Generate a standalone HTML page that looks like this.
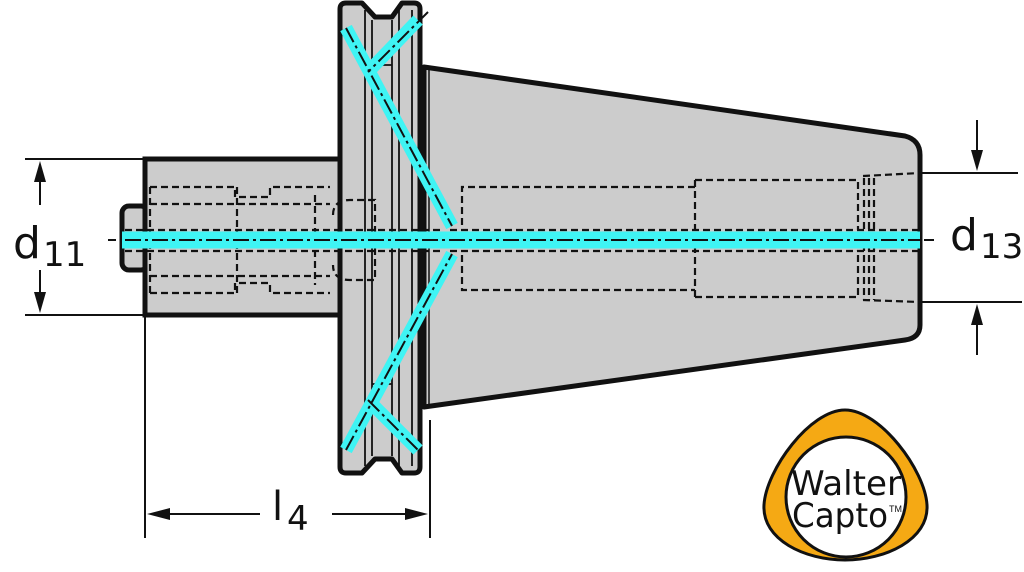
<!DOCTYPE html>
<html><head><meta charset="utf-8"><style>
html,body{margin:0;padding:0;background:#fff;}
svg{display:block;}
text{font-family:"DejaVu Sans","Liberation Sans",sans-serif;fill:#111;}
</style></head><body>
<svg width="1024" height="572" viewBox="0 0 1024 572" xmlns="http://www.w3.org/2000/svg">
<g stroke="#111" stroke-width="2" fill="none">
  <line x1="25" y1="159" x2="145" y2="159"/>
  <line x1="25" y1="315" x2="145" y2="315"/>
  <line x1="40" y1="175" x2="40" y2="205"/>
  <line x1="40" y1="270" x2="40" y2="300"/>
  <line x1="145" y1="315" x2="145" y2="538"/>
  <line x1="430" y1="420" x2="430" y2="538"/>
  <line x1="160" y1="514" x2="260" y2="514"/>
  <line x1="332" y1="514" x2="415" y2="514"/>
  <line x1="920" y1="173" x2="1018" y2="173"/>
  <line x1="920" y1="302" x2="1022" y2="302"/>
  <line x1="977" y1="120" x2="977" y2="160"/>
  <line x1="977" y1="315" x2="977" y2="355"/>
  <line x1="108" y1="240" x2="116" y2="240"/>
  <line x1="924" y1="240" x2="934" y2="240"/>
</g>
<g fill="#111">
  <polygon points="40,161 34,182 46,182"/>
  <polygon points="40,313 34,292 46,292"/>
  <polygon points="147,514 170,508 170,520"/>
  <polygon points="428,514 405,508 405,520"/>
  <polygon points="977,171 971,150 983,150"/>
  <polygon points="977,304 971,325 983,325"/>
</g>
<rect x="122" y="206" width="26" height="64" rx="7" fill="#ccc" stroke="#111" stroke-width="5"/>
<rect x="145" y="159" width="197" height="156" fill="#ccc" stroke="#111" stroke-width="5"/>
<path d="M424,67 L905,136 Q920,140 920,155 L920,325 Q920,338 905,340 L424,407 Z" fill="#ccc" stroke="#111" stroke-width="5" stroke-linejoin="round"/>
<g stroke="#111" stroke-width="1.5"><line x1="425" y1="70" x2="425" y2="405"/><line x1="429" y1="70" x2="429" y2="405"/></g>
<path d="M346,3 L362,3 L375,17 L392,17 L402,3 L414,3 Q420,3 420,9 L420,467 Q420,473 414,473 L402,473 L392,459 L375,459 L362,473 L346,473 Q340,473 340,467 L340,9 Q340,3 346,3 Z" fill="#ccc" stroke="#111" stroke-width="5" stroke-linejoin="round"/>
<g stroke="#111" stroke-width="1.8">
  <line x1="365" y1="10" x2="365" y2="466"/>
  <line x1="372" y1="20" x2="372" y2="456"/>
  <line x1="392" y1="20" x2="392" y2="456"/>
  <line x1="399" y1="10" x2="399" y2="466"/>
  <line x1="412" y1="10" x2="412" y2="466"/>
  <line x1="372" y1="65" x2="392" y2="65"/>
  <line x1="372" y1="384" x2="392" y2="384"/>
</g>
<g stroke="#111" stroke-width="2.2" fill="none" stroke-dasharray="7,4">
  <path d="M150,187 L235,187 L235,197 L270,197 L270,187 L330,187"/>
  <path d="M150,204 L330,204"/>
  <path d="M150,276 L330,276"/>
  <path d="M150,293 L235,293 L235,283 L270,283 L270,293 L330,293"/>
  <line x1="150" y1="187" x2="150" y2="293"/>
  <line x1="237" y1="187" x2="237" y2="293"/>
  <line x1="315" y1="195" x2="315" y2="285"/>
  <path d="M333,215 Q333,200 350,200 L375,200 L375,280 L350,280 Q333,280 333,265"/>
  <path d="M462,225 L462,187 L695,187"/>
  <path d="M462,255 L462,290 L695,290"/>
  <path d="M695,180 L858,180 L858,230"/>
  <path d="M695,297 L858,297 L858,250"/>
  <line x1="695" y1="180" x2="695" y2="297"/>
  <path d="M863,176 L920,173"/>
  <path d="M863,300 L920,302"/>
  <line x1="864" y1="178" x2="864" y2="300"/>
  <line x1="869" y1="178" x2="869" y2="300"/>
  <line x1="874" y1="178" x2="874" y2="300"/>
  <line x1="450" y1="230" x2="920" y2="230"/>
  <line x1="450" y1="251" x2="920" y2="251"/>
  <line x1="125" y1="230" x2="440" y2="230"/>
  <line x1="125" y1="251" x2="440" y2="251"/>
</g>
<g stroke="#3ff4f4" stroke-linecap="butt">
  <line x1="122" y1="240" x2="920" y2="240" stroke-width="17"/>
  <line x1="346" y1="28" x2="452" y2="226" stroke-width="13"/>
  <line x1="346" y1="450" x2="452" y2="254" stroke-width="13"/>
  <line x1="418" y1="20" x2="368" y2="72" stroke-width="13"/>
  <line x1="368" y1="400" x2="418" y2="450" stroke-width="13"/>
</g>
<g stroke="#111" stroke-width="2" fill="none" stroke-dasharray="16,4,3,4">
  <line x1="125" y1="240" x2="920" y2="240"/>
  <line x1="346" y1="28" x2="452" y2="226"/>
  <line x1="346" y1="450" x2="452" y2="254"/>
  <line x1="428" y1="12" x2="368" y2="72"/>
  <line x1="368" y1="400" x2="418" y2="450"/>
</g>
<text x="13" y="258" font-size="44">d</text>
<text x="43" y="266" font-size="34">11</text>
<text x="272" y="520" font-size="40">l</text>
<text x="287" y="530" font-size="34">4</text>
<text x="950" y="250" font-size="44">d</text>
<text x="980" y="258" font-size="34">13</text>
<path d="M845,410 C880,410 925,470 927,505 C929,540 885,560 845,560 C805,560 762,540 764,505 C766,470 810,410 845,410 Z" fill="#f5a914" stroke="#111" stroke-width="3"/>
<circle cx="846" cy="497" r="60" fill="#fff" stroke="#111" stroke-width="3"/>
<text x="846" y="495" font-size="34" text-anchor="middle" style="font-family:'DejaVu Sans Condensed','DejaVu Sans',sans-serif" textLength="110" lengthAdjust="spacingAndGlyphs">Walter</text>
<text x="840" y="527" font-size="34" text-anchor="middle" style="font-family:'DejaVu Sans Condensed','DejaVu Sans',sans-serif" textLength="96" lengthAdjust="spacingAndGlyphs">Capto</text>
<text x="889" y="512" font-size="9" style="font-family:'Liberation Sans',sans-serif">TM</text>
</svg>
</body></html>
